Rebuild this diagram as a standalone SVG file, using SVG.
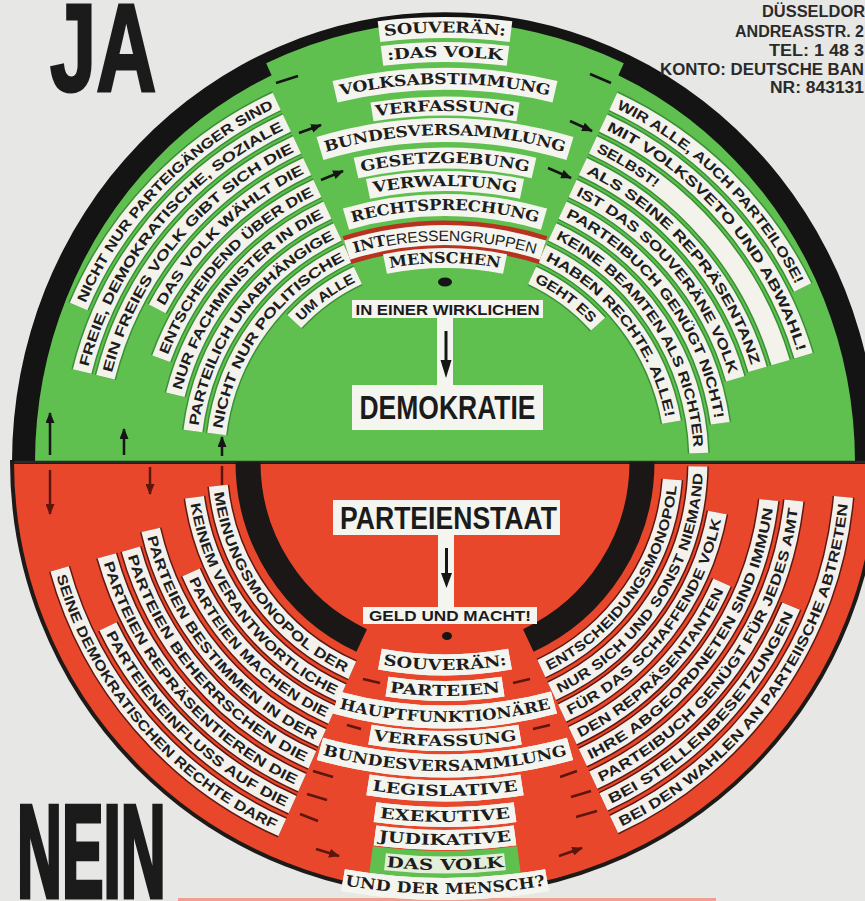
<svg xmlns="http://www.w3.org/2000/svg" width="865" height="901" viewBox="0 0 865 901">
<defs>
<style>
.og{fill:none;stroke:#3a9036;stroke-width:22}
.wg{fill:none;stroke:#f3f3ec;stroke-width:19}
.or{fill:none;stroke:#5e1810;stroke-width:22}
.wr{fill:none;stroke:#f4f1ec;stroke-width:19}
.st{font-family:'Liberation Sans',Arial,sans-serif;font-weight:700;font-size:14px;fill:#1d1d1d;dominant-baseline:central}
.cl{font-family:'DejaVu Serif','Liberation Serif',serif;font-weight:700;font-size:15px;fill:#1d1d1d;dominant-baseline:central}
.bx{fill:none;stroke:#f5f5f0}
.bxo{fill:none;stroke:#7a2a1c}
.big{font-family:'Liberation Sans',Arial,sans-serif;font-weight:700;fill:#1b1b1b;stroke:#1b1b1b}
.adr{font-family:'Liberation Sans',Arial,sans-serif;font-weight:700;font-size:16px;fill:#2a2a2a}
.lbl{font-family:'Liberation Sans',Arial,sans-serif;font-weight:700;fill:#1b1b1b}
.ak{stroke:#151515;stroke-width:2.5;fill:none}
.ar{stroke:#5e150c;stroke-width:2.5;fill:none}
</style>
<marker id="mk" viewBox="0 0 12 10" refX="11" refY="5" markerWidth="11" markerHeight="9" markerUnits="userSpaceOnUse" orient="auto"><path d="M0,0 L12,5 L0,10 Z" fill="#151515"/></marker>
<marker id="mr" viewBox="0 0 12 10" refX="11" refY="5" markerWidth="11" markerHeight="9" markerUnits="userSpaceOnUse" orient="auto"><path d="M0,0 L12,5 L0,10 Z" fill="#5e150c"/></marker>
<path id="pul0" d="M78.6,306.5 A398,398 0 0 1 276.8,101.3"/>
<path id="pul1" d="M82.1,371.5 A374,374 0 0 1 286.9,123.0"/>
<path id="pul2" d="M105.4,377.3 A350,350 0 0 1 297.1,144.8"/>
<path id="pul3" d="M157.2,308.9 A326,326 0 0 1 307.2,166.5"/>
<path id="pul4" d="M161.2,358.7 A302,302 0 0 1 317.4,188.3"/>
<path id="pul5" d="M175.3,394.8 A278,278 0 0 1 327.5,210.1"/>
<path id="pul6" d="M192.9,431.0 A254,254 0 0 1 337.7,231.8"/>
<path id="pul7" d="M216.7,434.0 A230,230 0 0 1 347.8,253.6"/>
<path id="pul8" d="M294.3,321.5 A206,206 0 0 1 357.9,275.3"/>
<path id="pur0" d="M613.2,101.3 A398,398 0 0 1 802.7,287.5"/>
<path id="pur1" d="M603.1,123.0 A374,374 0 0 1 803.6,355.8"/>
<path id="pur2" d="M592.9,144.8 A350,350 0 0 1 780.6,362.6"/>
<path id="pur3" d="M582.8,166.5 A326,326 0 0 1 757.6,369.4"/>
<path id="pur4" d="M572.6,188.3 A302,302 0 0 1 735.3,378.8"/>
<path id="pur5" d="M562.5,210.1 A278,278 0 0 1 720.3,423.3"/>
<path id="pur6" d="M552.3,231.8 A254,254 0 0 1 698.8,453.1"/>
<path id="pur7" d="M542.2,253.6 A230,230 0 0 1 671.5,422.1"/>
<path id="pur8" d="M532.1,275.3 A206,206 0 0 1 598.1,324.2"/>
<path id="pll0" d="M218.3,485.8 A228,228 0 0 0 352.3,670.3"/>
<path id="pll1" d="M194.5,497.2 A253,253 0 0 0 342.1,693.1"/>
<path id="pll2" d="M191.0,572.4 A277,277 0 0 0 332.3,715.0"/>
<path id="pll3" d="M150.7,529.9 A302,302 0 0 0 322.2,737.9"/>
<path id="pll4" d="M130.9,549.1 A326,326 0 0 0 312.4,759.8"/>
<path id="pll5" d="M106.8,555.8 A351,351 0 0 0 302.2,782.6"/>
<path id="pll6" d="M107.9,626.4 A375,375 0 0 0 292.5,804.6"/>
<path id="pll7" d="M59.6,568.9 A400,400 0 0 0 282.3,827.4"/>
<path id="plr0" d="M541.4,668.6 A228,228 0 0 0 672.3,479.5"/>
<path id="plr1" d="M551.9,691.3 A253,253 0 0 0 697.9,466.4"/>
<path id="plr2" d="M562.1,713.0 A277,277 0 0 0 717.4,512.5"/>
<path id="plr3" d="M572.6,735.7 A302,302 0 0 0 722.0,582.4"/>
<path id="plr4" d="M582.8,757.5 A326,326 0 0 0 768.8,500.0"/>
<path id="plr5" d="M593.3,780.1 A351,351 0 0 0 793.9,500.5"/>
<path id="plr6" d="M603.5,801.9 A375,375 0 0 0 791.2,606.1"/>
<path id="plr7" d="M614.0,824.5 A400,400 0 0 0 843.5,496.9"/>
</defs>

<rect width="865" height="901" fill="#e7e7e5"/>
<rect x="178" y="898" width="538" height="3" fill="#f0a090"/>

<g id="disc">
<path d="M12,462 A433,433 0 0 0 878,462 Z" fill="#e8472c" stroke="#1e1a18" stroke-width="4"/>
<path d="M12,462 A433,450 0 0 1 878,462 Z" fill="#141414"/>
<path d="M35,462 A410,427 0 0 1 855,462 Z" fill="#5fbf4f"/>
<path d="M445,462 L266.2,63.2 A423,440 0 0 1 623.8,63.2 Z" fill="#5fbf4f"/>
<line x1="14" y1="462" x2="876" y2="462" stroke="#2a2a2a" stroke-width="2.5"/>
<path d="M248,462 A197,197 0 0 0 361.7,640.5" fill="none" stroke="#1a1716" stroke-width="25"/>
<path d="M528.3,640.5 A197,197 0 0 0 642,462" fill="none" stroke="#1a1716" stroke-width="25"/>
</g>

<g id="upper-left-arcs">
<g id="ul0"><use href="#pul0" class="og"/><use href="#pul0" class="wg"/><text class="st"><textPath href="#pul0" startOffset="6" textLength="280" lengthAdjust="spacingAndGlyphs">NICHT NUR PARTEIGÄNGER SIND</textPath></text></g>
<g id="ul1"><use href="#pul1" class="og"/><use href="#pul1" class="wg"/><text class="st"><textPath href="#pul1" startOffset="6" textLength="321" lengthAdjust="spacingAndGlyphs">FREIE, DEMOKRATISCHE, SOZIALE</textPath></text></g>
<g id="ul2"><use href="#pul2" class="og"/><use href="#pul2" class="wg"/><text class="st"><textPath href="#pul2" startOffset="6" textLength="300" lengthAdjust="spacingAndGlyphs">EIN FREIES VOLK GIBT SICH DIE</textPath></text></g>
<g id="ul3"><use href="#pul3" class="og"/><use href="#pul3" class="wg"/><text class="st"><textPath href="#pul3" startOffset="6" textLength="199" lengthAdjust="spacingAndGlyphs">DAS VOLK WÄHLT DIE</textPath></text></g>
<g id="ul4"><use href="#pul4" class="og"/><use href="#pul4" class="wg"/><text class="st"><textPath href="#pul4" startOffset="6" textLength="225" lengthAdjust="spacingAndGlyphs">ENTSCHEIDEND ÜBER DIE</textPath></text></g>
<g id="ul5"><use href="#pul5" class="og"/><use href="#pul5" class="wg"/><text class="st"><textPath href="#pul5" startOffset="6" textLength="235" lengthAdjust="spacingAndGlyphs">NUR FACHMINISTER IN DIE</textPath></text></g>
<g id="ul6"><use href="#pul6" class="og"/><use href="#pul6" class="wg"/><text class="st"><textPath href="#pul6" startOffset="6" textLength="245" lengthAdjust="spacingAndGlyphs">PARTEILICH UNABHÄNGIGE</textPath></text></g>
<g id="ul7"><use href="#pul7" class="og"/><use href="#pul7" class="wg"/><text class="st"><textPath href="#pul7" startOffset="6" textLength="221" lengthAdjust="spacingAndGlyphs">NICHT NUR POLITISCHE</textPath></text></g>
<g id="ul8"><use href="#pul8" class="og"/><use href="#pul8" class="wg"/><text class="st"><textPath href="#pul8" startOffset="5" textLength="69" lengthAdjust="spacingAndGlyphs">UM ALLE</textPath></text></g>
</g>

<g id="upper-right-arcs">
<g id="ur0"><use href="#pur0" class="og"/><use href="#pur0" class="wg"/><text class="st"><textPath href="#pur0" startOffset="6" textLength="259" lengthAdjust="spacingAndGlyphs">WIR ALLE, AUCH PARTEILOSE!</textPath></text></g>
<g id="ur1"><use href="#pur1" class="og"/><use href="#pur1" class="wg"/><text class="st"><textPath href="#pur1" startOffset="6" textLength="305" lengthAdjust="spacingAndGlyphs">MIT VOLKSVETO UND ABWAHL!</textPath></text></g>
<g id="ur2"><use href="#pur2" class="og"/><use href="#pur2" class="wg"/><text class="st"><textPath href="#pur2" startOffset="6" textLength="70" lengthAdjust="spacingAndGlyphs">SELBST!</textPath></text></g>
<g id="ur3"><use href="#pur3" class="og"/><use href="#pur3" class="wg"/><text class="st"><textPath href="#pur3" startOffset="6" textLength="264" lengthAdjust="spacingAndGlyphs">ALS SEINE REPRÄSENTANZ</textPath></text></g>
<g id="ur4"><use href="#pur4" class="og"/><use href="#pur4" class="wg"/><text class="st"><textPath href="#pur4" startOffset="6" textLength="246" lengthAdjust="spacingAndGlyphs">IST DAS SOUVERÄNE VOLK</textPath></text></g>
<g id="ur5"><use href="#pur5" class="og"/><use href="#pur5" class="wg"/><text class="st"><textPath href="#pur5" startOffset="6" textLength="265" lengthAdjust="spacingAndGlyphs">PARTEIBUCH GENÜGT NICHT!</textPath></text></g>
<g id="ur6"><use href="#pur6" class="og"/><use href="#pur6" class="wg"/><text class="st"><textPath href="#pur6" startOffset="6" textLength="267" lengthAdjust="spacingAndGlyphs">KEINE BEAMTEN ALS RICHTER</textPath></text></g>
<g id="ur7"><use href="#pur7" class="og"/><use href="#pur7" class="wg"/><text class="st"><textPath href="#pur7" startOffset="6" textLength="209" lengthAdjust="spacingAndGlyphs">HABEN RECHTE. ALLE!</textPath></text></g>
<g id="ur8"><use href="#pur8" class="og"/><use href="#pur8" class="wg"/><text class="st"><textPath href="#pur8" startOffset="5" textLength="72" lengthAdjust="spacingAndGlyphs">GEHT ES</textPath></text></g>
</g>

<g id="lower-left-arcs">
<g id="ll0"><use href="#pll0" class="or"/><use href="#pll0" class="wr"/><text class="st"><textPath href="#pll0" startOffset="6" textLength="227" lengthAdjust="spacingAndGlyphs">MEINUNGSMONOPOL DER</textPath></text></g>
<g id="ll1"><use href="#pll1" class="or"/><use href="#pll1" class="wr"/><text class="st"><textPath href="#pll1" startOffset="6" textLength="244" lengthAdjust="spacingAndGlyphs">KEINEM VERANTWORTLICHE</textPath></text></g>
<g id="ll2"><use href="#pll2" class="or"/><use href="#pll2" class="wr"/><text class="st"><textPath href="#pll2" startOffset="6" textLength="194" lengthAdjust="spacingAndGlyphs">PARTEIEN MACHEN DIE</textPath></text></g>
<g id="ll3"><use href="#pll3" class="or"/><use href="#pll3" class="wr"/><text class="st"><textPath href="#pll3" startOffset="6" textLength="267" lengthAdjust="spacingAndGlyphs">PARTEIEN BESTIMMEN IN DER</textPath></text></g>
<g id="ll4"><use href="#pll4" class="or"/><use href="#pll4" class="wr"/><text class="st"><textPath href="#pll4" startOffset="6" textLength="275" lengthAdjust="spacingAndGlyphs">PARTEIEN BEHERRSCHEN DIE</textPath></text></g>
<g id="ll5"><use href="#pll5" class="or"/><use href="#pll5" class="wr"/><text class="st"><textPath href="#pll5" startOffset="6" textLength="297" lengthAdjust="spacingAndGlyphs">PARTEIEN REPRÄSENTIEREN DIE</textPath></text></g>
<g id="ll6"><use href="#pll6" class="or"/><use href="#pll6" class="wr"/><text class="st"><textPath href="#pll6" startOffset="6" textLength="250" lengthAdjust="spacingAndGlyphs">PARTEIENEINFLUSS AUF DIE</textPath></text></g>
<g id="ll7"><use href="#pll7" class="or"/><use href="#pll7" class="wr"/><text class="st"><textPath href="#pll7" startOffset="6" textLength="340" lengthAdjust="spacingAndGlyphs">SEINE DEMOKRATISCHEN RECHTE DARF</textPath></text></g>
</g>

<g id="lower-right-arcs">
<g id="lr0"><use href="#plr0" class="or"/><use href="#plr0" class="wr"/><text class="st"><textPath href="#plr0" startOffset="6" textLength="229" lengthAdjust="spacingAndGlyphs">ENTSCHEIDUNGSMONOPOL</textPath></text></g>
<g id="lr1"><use href="#plr1" class="or"/><use href="#plr1" class="wr"/><text class="st"><textPath href="#plr1" startOffset="6" textLength="270" lengthAdjust="spacingAndGlyphs">NUR SICH UND SONST NIEMAND</textPath></text></g>
<g id="lr2"><use href="#plr2" class="or"/><use href="#plr2" class="wr"/><text class="st"><textPath href="#plr2" startOffset="6" textLength="251" lengthAdjust="spacingAndGlyphs">FÜR DAS SCHAFFENDE VOLK</textPath></text></g>
<g id="lr3"><use href="#plr3" class="or"/><use href="#plr3" class="wr"/><text class="st"><textPath href="#plr3" startOffset="6" textLength="206" lengthAdjust="spacingAndGlyphs">DEN REPRÄSENTANTEN</textPath></text></g>
<g id="lr4"><use href="#plr4" class="or"/><use href="#plr4" class="wr"/><text class="st"><textPath href="#plr4" startOffset="6" textLength="318" lengthAdjust="spacingAndGlyphs">IHRE ABGEORDNETEN SIND IMMUN</textPath></text></g>
<g id="lr5"><use href="#plr5" class="or"/><use href="#plr5" class="wr"/><text class="st"><textPath href="#plr5" startOffset="6" textLength="346" lengthAdjust="spacingAndGlyphs">PARTEIBUCH GENÜGT FÜR JEDES AMT</textPath></text></g>
<g id="lr6"><use href="#plr6" class="or"/><use href="#plr6" class="wr"/><text class="st"><textPath href="#plr6" startOffset="6" textLength="265" lengthAdjust="spacingAndGlyphs">BEI STELLENBESETZUNGEN</textPath></text></g>
<g id="lr7"><use href="#plr7" class="or"/><use href="#plr7" class="wr"/><text class="st"><textPath href="#plr7" startOffset="6" textLength="406" lengthAdjust="spacingAndGlyphs">BEI DEN WAHLEN AN PARTEIISCHE ABTRETEN</textPath></text></g>
</g>

<g id="upper-column">
<g id="u1"><path id="cu1" d="M379,31.6 A532.5,532.5 0 0 1 511,31.6" class="bx" stroke-width="21"/><text class="cl"><textPath href="#cu1" startOffset="50%" text-anchor="middle" textLength="122" lengthAdjust="spacingAndGlyphs">SOUVERÄN:</textPath></text></g>
<g id="u2"><path id="cu2" d="M382,55.9 A508,508 0 0 1 508,55.9" class="bx" stroke-width="20"/><text class="cl"><textPath href="#cu2" startOffset="50%" text-anchor="middle" textLength="116" lengthAdjust="spacingAndGlyphs">:DAS VOLK</textPath></text></g>
<g id="u3"><path id="cu3" d="M335,91.7 A481,481 0 0 1 555,91.7" class="bx" stroke-width="22"/><text class="cl"><textPath href="#cu3" startOffset="50%" text-anchor="middle" textLength="212" lengthAdjust="spacingAndGlyphs">VOLKSABSTIMMUNG</textPath></text></g>
<g id="u4"><path id="cu4" d="M372,111.9 A454,454 0 0 1 518,111.9" class="bx" stroke-width="19"/><text class="cl"><textPath href="#cu4" startOffset="50%" text-anchor="middle" textLength="140" lengthAdjust="spacingAndGlyphs">VERFASSUNG</textPath></text></g>
<g id="u5"><path id="cu5" d="M320,148.6 A430,430 0 0 1 570,148.6" class="bx" stroke-width="24"/><text class="cl"><textPath href="#cu5" startOffset="50%" text-anchor="middle" textLength="244" lengthAdjust="spacingAndGlyphs">BUNDESVERSAMMLUNG</textPath></text></g>
<g id="u6"><path id="cu6" d="M356,168 A402,402 0 0 1 534,168" class="bx" stroke-width="21"/><text class="cl"><textPath href="#cu6" startOffset="50%" text-anchor="middle" textLength="170" lengthAdjust="spacingAndGlyphs">GESETZGEBUNG</textPath></text></g>
<g id="u7"><path id="cu7" d="M368,188.9 A379,379 0 0 1 522,188.9" class="bx" stroke-width="20"/><text class="cl"><textPath href="#cu7" startOffset="50%" text-anchor="middle" textLength="145" lengthAdjust="spacingAndGlyphs">VERWALTUNG</textPath></text></g>
<g id="u8"><path id="cu8" d="M346,219.1 A355,355 0 0 1 544,219.1" class="bx" stroke-width="22"/><text class="cl"><textPath href="#cu8" startOffset="50%" text-anchor="middle" textLength="190" lengthAdjust="spacingAndGlyphs">RECHTSPRECHUNG</textPath></text></g>
<g id="u9"><path d="M347,250.1 A325,325 0 0 1 543,250.1" fill="none" stroke="#b8321f" stroke-width="29"/><path id="cu9" d="M347,250.1 A325,325 0 0 1 543,250.1" class="bx" stroke-width="20"/><text class="cl"><textPath href="#cu9" startOffset="50%" text-anchor="middle" textLength="186" lengthAdjust="spacingAndGlyphs">INT<tspan style="font-family:'Liberation Sans',Arial,sans-serif;font-weight:400">ERESSENGRUPPEN</tspan></textPath></text></g>
<g id="u10"><path id="cu10" d="M385,264 A302,302 0 0 1 505,264" class="bx" stroke-width="20"/><text class="cl"><textPath href="#cu10" startOffset="50%" text-anchor="middle" textLength="112" lengthAdjust="spacingAndGlyphs">MENSCHEN</textPath></text></g>
</g>

<g id="lower-column">
<g id="d1"><use href="#cd1" class="bxo" stroke-width="23"/><path id="cd1" d="M380,659.2 A365,365 0 0 0 510,659.2" class="bx" stroke-width="21"/><text class="cl"><textPath href="#cd1" startOffset="50%" text-anchor="middle" textLength="123" lengthAdjust="spacingAndGlyphs">SOUVERÄN:</textPath></text></g>
<g id="d2"><use href="#cd2" class="bxo" stroke-width="22"/><path id="cd2" d="M387,686.7 A391,391 0 0 0 503,686.7" class="bx" stroke-width="20"/><text class="cl"><textPath href="#cd2" startOffset="50%" text-anchor="middle" textLength="110" lengthAdjust="spacingAndGlyphs">PARTEIEN</textPath></text></g>
<g id="d3"><use href="#cd3" class="bxo" stroke-width="25"/><path id="cd3" d="M336,702.5 A417,417 0 0 0 554,702.5" class="bx" stroke-width="23"/><text class="cl"><textPath href="#cd3" startOffset="50%" text-anchor="middle" textLength="212" lengthAdjust="spacingAndGlyphs">HAUPTFUNKTIONÄRE</textPath></text></g>
<g id="d4"><use href="#cd4" class="bxo" stroke-width="22"/><path id="cd4" d="M370,734.6 A441,441 0 0 0 520,734.6" class="bx" stroke-width="20"/><text class="cl"><textPath href="#cd4" startOffset="50%" text-anchor="middle" textLength="143" lengthAdjust="spacingAndGlyphs">VERFASSUNG</textPath></text></g>
<g id="d5"><use href="#cd5" class="bxo" stroke-width="25"/><path id="cd5" d="M320,748.9 A466,466 0 0 0 570,748.9" class="bx" stroke-width="23"/><text class="cl"><textPath href="#cd5" startOffset="50%" text-anchor="middle" textLength="245" lengthAdjust="spacingAndGlyphs">BUNDESVERSAMMLUNG</textPath></text></g>
<g id="d6"><use href="#cd6" class="bxo" stroke-width="23"/><path id="cd6" d="M368,784.9 A491,491 0 0 0 522,784.9" class="bx" stroke-width="21"/><text class="cl"><textPath href="#cd6" startOffset="50%" text-anchor="middle" textLength="145" lengthAdjust="spacingAndGlyphs">LEGISLATIVE</textPath></text></g>
<g id="d7"><use href="#cd7" class="bxo" stroke-width="22"/><path id="cd7" d="M375,812.2 A517,517 0 0 0 515,812.2" class="bx" stroke-width="20"/><text class="cl"><textPath href="#cd7" startOffset="50%" text-anchor="middle" textLength="130" lengthAdjust="spacingAndGlyphs">EXEKUTIVE</textPath></text></g>
<g id="d8"><use href="#cd8" class="bxo" stroke-width="22"/><path id="cd8" d="M375,835.4 A540,540 0 0 0 515,835.4" class="bx" stroke-width="20"/><text class="cl"><textPath href="#cd8" startOffset="50%" text-anchor="middle" textLength="132" lengthAdjust="spacingAndGlyphs">JUDIKATIVE</textPath></text></g>
<g id="d9"><path d="M371,860.1 A565,565 0 0 0 519,860.1" fill="none" stroke="#5fbf4f" stroke-width="28"/><path id="cd9" d="M385,861.8 A565,565 0 0 0 505,861.8" fill="none" stroke="#e4efda" stroke-width="17"/><text class="cl"><textPath href="#cd9" startOffset="50%" text-anchor="middle" textLength="117" lengthAdjust="spacingAndGlyphs">DAS VOLK</textPath></text></g>
<g id="d10"><use href="#cd10" class="bxo" stroke-width="24"/><path id="cd10" d="M343,880.1 A589,589 0 0 0 547,880.1" class="bx" stroke-width="22"/><text class="cl"><textPath href="#cd10" startOffset="50%" text-anchor="middle" textLength="200" lengthAdjust="spacingAndGlyphs">UND DER MENSCH?</textPath></text></g>
</g>

<g id="in-einer-wirklichen"><rect x="352" y="300" width="191" height="18" fill="#f5f5f0"/><text class="lbl" x="447.5" y="314.5" font-size="14" text-anchor="middle" textLength="184" lengthAdjust="spacingAndGlyphs">IN EINER WIRKLICHEN</text></g>
<g id="demokratie"><rect x="352" y="385" width="191" height="45" fill="#f5f5f0"/><text class="lbl" x="447.5" y="418.5" font-size="34" text-anchor="middle" textLength="176" lengthAdjust="spacingAndGlyphs">DEMOKRATIE</text></g>
<g id="parteienstaat"><rect x="333" y="500" width="227" height="35" fill="#f5f5f0"/><text class="lbl" x="448.5" y="528.5" font-size="32" text-anchor="middle" textLength="217" lengthAdjust="spacingAndGlyphs">PARTEIENSTAAT</text></g>
<g id="geld-und-macht"><rect x="363" y="607" width="174" height="17" fill="#f5f5f0"/><text class="lbl" x="450" y="621" font-size="14" text-anchor="middle" textLength="162" lengthAdjust="spacingAndGlyphs">GELD UND MACHT!</text></g>

<g id="connectors">
<rect x="437" y="318" width="16" height="68" fill="#f5f5f0"/>
<line x1="446" y1="331" x2="446" y2="362" stroke="#151515" stroke-width="3"/>
<polygon points="440.5,360 451.5,360 446,378" fill="#151515"/>
<rect x="438" y="535" width="16" height="73" fill="#f5f5f0"/>
<line x1="446.5" y1="548" x2="446.5" y2="575" stroke="#151515" stroke-width="3"/>
<polygon points="441,573 452,573 446.5,588" fill="#151515"/>
<ellipse cx="445" cy="282" rx="7" ry="4.5" fill="#151515"/>
<ellipse cx="447" cy="636" rx="5" ry="4" fill="#151515"/>
<line class="ak" x1="50" y1="455" x2="50" y2="413" marker-end="url(#mk)"/>
<line class="ak" x1="124" y1="455" x2="124" y2="429" marker-end="url(#mk)"/>
<line class="ak" x1="222" y1="456" x2="222" y2="437" marker-end="url(#mk)"/>
<line class="ar" x1="50" y1="470" x2="50" y2="514" marker-end="url(#mr)"/>
<line class="ar" x1="150" y1="467" x2="150" y2="494" marker-end="url(#mr)"/>
<line class="ar" x1="222" y1="466" x2="222" y2="485"/>
<line class="ak" x1="276" y1="83" x2="298" y2="76"/>
<line class="ak" x1="299" y1="133" x2="321" y2="125" marker-end="url(#mk)"/>
<line class="ak" x1="321" y1="180" x2="343" y2="171" marker-end="url(#mk)"/>
<line class="ak" x1="590" y1="74" x2="611" y2="83"/>
<line class="ak" x1="570" y1="121" x2="592" y2="131" marker-end="url(#mk)"/>
<line class="ak" x1="548" y1="168" x2="571" y2="178" marker-end="url(#mk)"/>
<line class="ar" x1="363" y1="679" x2="380" y2="683"/>
<line class="ar" x1="347" y1="725" x2="361" y2="729"/>
<line class="ar" x1="313" y1="771" x2="333" y2="777"/>
<line class="ar" x1="307" y1="794" x2="327" y2="800"/>
<line class="ar" x1="300" y1="814" x2="318" y2="821"/>
<line class="ar" x1="316" y1="849" x2="339" y2="856" marker-end="url(#mr)"/>
<line class="ar" x1="513" y1="683" x2="530" y2="679"/>
<line class="ar" x1="533" y1="729" x2="550" y2="725"/>
<line class="ar" x1="560" y1="777" x2="577" y2="771"/>
<line class="ar" x1="571" y1="797" x2="591" y2="791"/>
<line class="ar" x1="576" y1="817" x2="597" y2="811"/>
<line class="ar" x1="559" y1="856" x2="582" y2="848" marker-end="url(#mr)"/>
</g>

<g id="ja"><text class="big" x="0" y="0" transform="translate(50,91) scale(0.67,1)" font-size="124" stroke-width="3">JA</text></g>
<g id="nein"><text class="big" x="0" y="0" transform="translate(17,897) scale(0.475,1)" font-size="131" stroke-width="5">NEIN</text></g>
<g id="address">
<text class="adr" x="762" y="17" textLength="103" lengthAdjust="spacingAndGlyphs">DÜSSELDOR</text>
<text class="adr" x="735" y="37" textLength="129" lengthAdjust="spacingAndGlyphs">ANDREASSTR. 2</text>
<text class="adr" x="769" y="56" textLength="95" lengthAdjust="spacingAndGlyphs">TEL: 1 48 3</text>
<text class="adr" x="660" y="75" textLength="204" lengthAdjust="spacingAndGlyphs">KONTO: DEUTSCHE BAN</text>
<text class="adr" x="770" y="93" textLength="94" lengthAdjust="spacingAndGlyphs">NR: 843131</text>
</g>
</svg>
